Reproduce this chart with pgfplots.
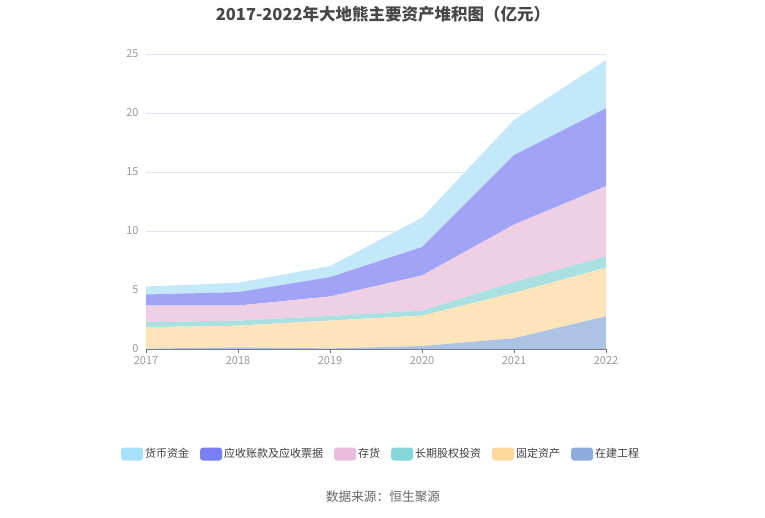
\documentclass[border=0pt]{standalone}
\usepackage{fontspec}
\setmainfont{Noto Sans CJK SC}
\usepackage{pgfplots}
\pgfplotsset{compat=1.18}

% area fills (as rendered) and legend swatches
\definecolor{fA}{HTML}{C3E8F9}\definecolor{lA}{HTML}{A8E0FA}
\definecolor{fB}{HTML}{A0A3F6}\definecolor{lB}{HTML}{7B7FF5}
\definecolor{fC}{HTML}{EECFE4}\definecolor{lC}{HTML}{E9BCDC}
\definecolor{fD}{HTML}{A9E1E2}\definecolor{lD}{HTML}{86D7D9}
\definecolor{fE}{HTML}{FDE4BB}\definecolor{lE}{HTML}{FDD89A}
\definecolor{fF}{HTML}{ADC3E4}\definecolor{lF}{HTML}{8EADDE}
\definecolor{gridc}{HTML}{E0E6F1}
\definecolor{tickc}{HTML}{999999}

\begin{document}
\begin{tikzpicture}[x=1pt,y=1pt]
\path (0,0) rectangle (765,517);
\node[font=\fontsize{16.5}{19}\selectfont\bfseries, text=black!72] at (383,503) {2017-2022年大地熊主要资产堆积图（亿元）};
\node[font=\fontsize{12.7}{15}\selectfont, text=black!60] at (383,20) {数据来源：恒生聚源};
\begin{axis}[
    at={(146pt,168pt)}, anchor=south west,
    scale only axis, width=460pt, height=295pt,
    xmin=2017, xmax=2022, ymin=0, ymax=25,
    stack plots=y,
    xtick={2017,2018,2019,2020,2021,2022},
    ytick={0,5,10,15,20,25},
    xticklabel style={/pgf/number format/1000 sep={}},
    /pgf/number format/assume math mode=true,
    ticklabel style={font=\fontsize{11}{13}\selectfont, text=tickc},
    axis x line*=bottom, axis y line*=left,
    x axis line style={draw=black!55, -},
    y axis line style={draw=none},
    xtick style={draw=black!55}, ytick style={draw=none},
    xtick align=outside, major tick length=4pt,
    ymajorgrids, grid style={gridc, line width=0.6pt},
    yticklabel style={xshift=-4pt},
    reverse legend,
    legend columns=6,
    legend style={at={(0.511,-0.356)}, anchor=center, draw=none,
        font=\fontsize{11}{13}\selectfont, text=black!75,
        /tikz/every even column/.append style={column sep=9pt}},
]
\addplot[fill=fF, draw=none, legend image code/.code={\fill[lF, rounded corners=3pt] (0pt,-6.5pt) rectangle (22pt,6.5pt);}]
  coordinates {(2017,0.03) (2018,0.14) (2019,0.05) (2020,0.25) (2021,0.91) (2022,2.78)} \closedcycle;
\addlegendentry{在建工程}
\addplot[fill=fE, draw=none, legend image code/.code={\fill[lE, rounded corners=3pt] (0pt,-6.5pt) rectangle (22pt,6.5pt);}]
  coordinates {(2017,1.81) (2018,1.84) (2019,2.36) (2020,2.58) (2021,3.85) (2022,4.10)} \closedcycle;
\addlegendentry{固定资产}
\addplot[fill=fD, draw=none, legend image code/.code={\fill[lD, rounded corners=3pt] (0pt,-6.5pt) rectangle (22pt,6.5pt);}]
  coordinates {(2017,0.43) (2018,0.43) (2019,0.39) (2020,0.43) (2021,0.91) (2022,0.97)} \closedcycle;
\addlegendentry{长期股权投资}
\addplot[fill=fC, draw=none, legend image code/.code={\fill[lC, rounded corners=3pt] (0pt,-6.5pt) rectangle (22pt,6.5pt);}]
  coordinates {(2017,1.41) (2018,1.27) (2019,1.65) (2020,2.97) (2021,4.87) (2022,5.95)} \closedcycle;
\addlegendentry{存货}
\addplot[fill=fB, draw=none, legend image code/.code={\fill[lB, rounded corners=3pt] (0pt,-6.5pt) rectangle (22pt,6.5pt);}]
  coordinates {(2017,0.94) (2018,1.14) (2019,1.64) (2020,2.41) (2021,5.89) (2022,6.60)} \closedcycle;
\addlegendentry{应收账款及应收票据}
\addplot[fill=fA, draw=none, legend image code/.code={\fill[lA, rounded corners=3pt] (0pt,-6.5pt) rectangle (22pt,6.5pt);}]
  coordinates {(2017,0.68) (2018,0.79) (2019,0.94) (2020,2.49) (2021,2.98) (2022,4.10)} \closedcycle;
\addlegendentry{货币资金}
\end{axis}
\end{tikzpicture}
\end{document}
